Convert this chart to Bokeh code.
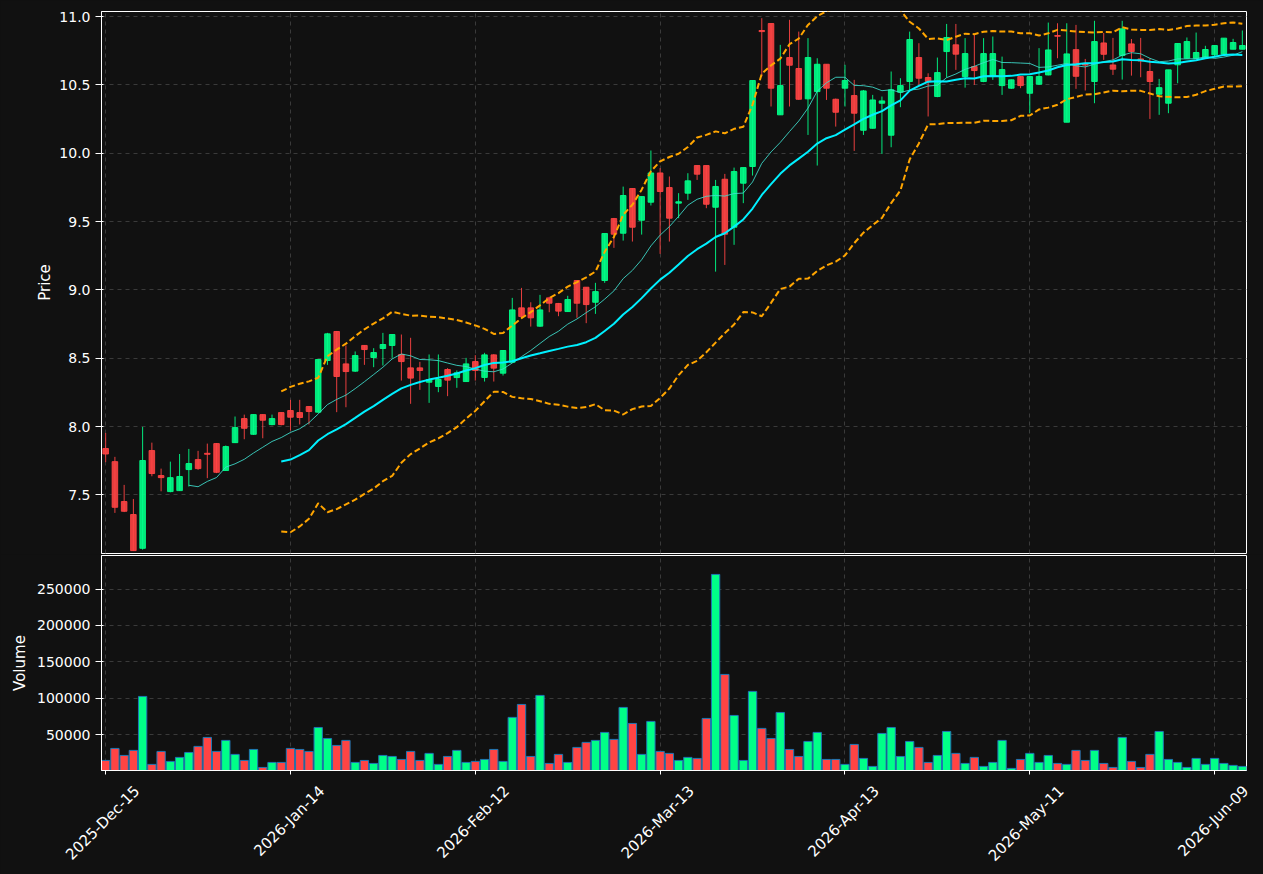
import numpy as np
import pandas as pd
from bokeh.plotting import figure
from bokeh.layouts import column
from bokeh.models import (Range1d, FixedTicker, SingleIntervalTicker, LinearAxis,
                          NumeralTickFormatter, ColumnDataSource)
from bokeh.embed import file_html
from bokeh.resources import INLINE

# ---------------- data ----------------
opens = [7.84, 7.744, 7.452, 7.357, 7.11, 7.825, 7.642, 7.525, 7.532, 7.686,
         7.759, 7.805, 7.876, 7.679, 7.883, 8.059, 7.944, 8.088, 8.015, 8.103,
         8.118, 8.103, 8.147, 8.106, 8.484, 8.696, 8.459, 8.406, 8.594, 8.506,
         8.572, 8.594, 8.528, 8.43, 8.43, 8.325, 8.294, 8.418, 8.359, 8.33,
         8.476, 8.36, 8.525, 8.391, 8.471, 8.869, 8.869, 8.735, 8.942, 8.901,
         8.842, 9.069, 9.02, 8.91, 9.069, 9.522, 9.415, 9.742, 9.51, 9.642,
         9.856, 9.749, 9.635, 9.708, 9.91, 9.91, 9.605, 9.81, 9.459, 9.781,
         9.903, 10.898, 10.949, 10.281, 10.70, 10.62, 10.398, 10.451, 10.651, 10.395,
         10.476, 10.422, 10.168, 10.183, 10.366, 10.132, 10.447, 10.525, 10.70, 10.554,
         10.415, 10.744, 10.793, 10.561, 10.634, 10.525, 10.561, 10.495, 10.476, 10.561,
         10.439, 10.505, 10.573, 10.861, 10.227, 10.758, 10.655, 10.525, 10.807, 10.646,
         10.715, 10.80, 10.69, 10.598, 10.432, 10.366, 10.647, 10.695, 10.695, 10.695,
         10.72, 10.725, 10.761, 10.761]
highs = [7.954, 7.779, 7.574, 7.471, 7.998, 7.883, 7.693, 7.744, 7.80, 7.837,
         7.823, 7.876, 7.88, 7.862, 8.074, 8.088, 8.09, 8.09, 8.088, 8.105,
         8.196, 8.196, 8.15, 8.49, 8.686, 8.70, 8.594, 8.55, 8.595, 8.574,
         8.686, 8.674, 8.674, 8.65, 8.474, 8.528, 8.528, 8.428, 8.411, 8.503,
         8.523, 8.54, 8.53, 8.56, 8.942, 9.015, 8.91, 8.964, 8.95, 8.905,
         8.957, 9.07, 9.02, 9.052, 9.413, 9.527, 9.756, 9.745, 9.683, 10.02,
         9.891, 9.83, 9.708, 9.854, 9.91, 9.91, 9.805, 9.849, 9.895, 9.895,
         10.532, 10.988, 10.95, 10.793, 10.976, 10.89, 10.842, 10.695, 10.651, 10.40,
         10.647, 10.537, 10.463, 10.427, 10.415, 10.598, 10.549, 10.89, 10.805, 10.585,
         10.70, 10.946, 10.946, 10.842, 10.871, 10.842, 10.854, 10.707, 10.54, 10.565,
         10.565, 10.769, 10.956, 10.951, 10.951, 10.939, 10.69, 10.969, 10.88, 10.844,
         10.969, 10.836, 10.844, 10.695, 10.544, 10.61, 10.803, 10.847, 10.883, 10.786,
         10.79, 10.842, 10.837, 10.898]
lows = [7.74, 7.369, 7.375, 7.09, 7.10, 7.637, 7.527, 7.52, 7.53, 7.562,
        7.684, 7.623, 7.66, 7.677, 7.88, 7.908, 7.94, 7.915, 8.01, 8.01,
        7.972, 8.016, 8.016, 8.10, 8.452, 8.106, 8.142, 8.40, 8.452, 8.435,
        8.447, 8.503, 8.337, 8.167, 8.269, 8.174, 8.252, 8.223, 8.284, 8.33,
        8.337, 8.33, 8.33, 8.374, 8.47, 8.80, 8.732, 8.73, 8.837, 8.808,
        8.84, 8.796, 8.757, 8.825, 9.052, 9.308, 9.361, 9.354, 9.405, 9.618,
        9.264, 9.354, 9.525, 9.659, 9.805, 9.598, 9.134, 9.183, 9.33, 9.635,
        9.837, 10.562, 10.342, 10.28, 10.342, 10.39, 10.134, 9.91, 10.39, 10.195,
        10.342, 10.017, 10.134, 10.18, 9.995, 10.044, 10.337, 10.464, 10.50, 10.269,
        10.41, 10.554, 10.61, 10.48, 10.50, 10.52, 10.537, 10.427, 10.47, 10.476,
        10.293, 10.50, 10.57, 10.695, 10.227, 10.471, 10.459, 10.366, 10.683, 10.573,
        10.539, 10.568, 10.556, 10.251, 10.281, 10.293, 10.512, 10.69, 10.69, 10.69,
        10.707, 10.72, 10.76, 10.76]
closes = [7.80, 7.41, 7.381, 7.093, 7.752, 7.657, 7.627, 7.627, 7.635, 7.73,
          7.693, 7.798, 7.666, 7.854, 7.993, 7.988, 8.088, 8.047, 8.059, 8.015,
          8.069, 8.067, 8.111, 8.491, 8.679, 8.367, 8.403, 8.52, 8.564, 8.542,
          8.601, 8.674, 8.476, 8.355, 8.411, 8.345, 8.345, 8.34, 8.394, 8.459,
          8.411, 8.525, 8.428, 8.557, 8.854, 8.806, 8.796, 8.854, 8.903, 8.845,
          8.93, 8.903, 8.893, 8.988, 9.413, 9.408, 9.691, 9.459, 9.683, 9.856,
          9.72, 9.525, 9.645, 9.798, 9.847, 9.627, 9.757, 9.408, 9.866, 9.895,
          10.532, 10.89, 10.476, 10.495, 10.644, 10.395, 10.70, 10.651, 10.476, 10.30,
          10.532, 10.293, 10.456, 10.39, 10.383, 10.464, 10.495, 10.832, 10.549, 10.525,
          10.59, 10.847, 10.725, 10.729, 10.605, 10.729, 10.729, 10.612, 10.537, 10.495,
          10.561, 10.561, 10.756, 10.856, 10.727, 10.563, 10.645, 10.817, 10.724, 10.615,
          10.91, 10.744, 10.675, 10.525, 10.48, 10.61, 10.803, 10.817, 10.737, 10.759,
          10.788, 10.842, 10.81, 10.788]
volumes = [14600, 31100, 21500, 28400, 102500, 9200, 27000, 13300, 18800, 25600,
           33900, 46200, 27000, 42100, 22900, 14600, 29700, 5000, 11900, 11900,
           31100, 29700, 27000, 59900, 44800, 35200, 42100, 11900, 14600, 10500,
           21500, 20100, 16000, 27000, 14600, 24300, 9200, 20100, 28400, 11900,
           13300, 16000, 29700, 13300, 73700, 91500, 20100, 103900, 10500, 22900,
           11900, 32500, 39400, 42100, 53100, 43500, 87400, 65400, 22900, 68200,
           27000, 24300, 14600, 18800, 17400, 72300, 270000, 132700, 76400, 14600,
           109400, 58600, 44800, 80500, 29700, 20100, 40700, 53100, 16000, 16000,
           9200, 36600, 17400, 6400, 51700, 59900, 20100, 40700, 32500, 11900,
           21500, 54400, 24300, 10500, 18800, 6400, 11900, 42100, 3700, 16000,
           24300, 11900, 21500, 10500, 9200, 28400, 14600, 28400, 10500, 5000,
           46200, 13300, 5000, 22900, 54400, 16000, 11900, 5000, 17400, 9200,
           17400, 10500, 7800, 6400]
tick_positions = [0, 20, 40, 60, 80, 100, 120]
tick_labels = ["2025-Dec-15", "2026-Jan-14", "2026-Feb-12", "2026-Mar-13",
               "2026-Apr-13", "2026-May-11", "2026-Jun-09"]

# ---------------- derived ----------------
n = len(closes)
idx = list(range(n))
UP, DOWN = "#00ff88", "#ff4444"
colors = [UP if c >= o else DOWN for o, c in zip(opens, closes)]
body_top = [max(o, c) for o, c in zip(opens, closes)]
body_bot = [min(o, c) for o, c in zip(opens, closes)]
cs = pd.Series(closes)
sma10 = cs.rolling(10).mean()
sma20 = cs.rolling(20).mean()
std20 = cs.rolling(20).std()
upper = sma20 + 2 * std20
lower = sma20 - 2 * std20

src = ColumnDataSource(dict(x=idx, o=opens, h=highs, l=lows, c=closes, v=volumes,
                            color=colors, top=body_top, bot=body_bot,
                            sma10=sma10.values, sma20=sma20.values,
                            upper=upper.values, lower=lower.values))

BG = "#111111"
GRID = "#3a3a3a"
FONT = "DejaVu Sans"
W = 1263
LEFT, RIGHT = 101, 17
xr = Range1d(-0.45, n - 0.55)


def style(p):
    p.background_fill_color = BG
    p.border_fill_color = BG
    p.outline_line_color = "white"
    p.outline_line_width = 1
    p.outline_line_alpha = 1
    for ax in p.axis:
        ax.axis_line_color = "white"
        ax.major_tick_line_color = "white"
        ax.minor_tick_line_color = None
        ax.major_label_text_color = "white"
        ax.major_label_text_font = FONT
        ax.major_label_text_font_size = "14px"
        ax.axis_label_text_color = "white"
        ax.axis_label_text_font = FONT
        ax.axis_label_text_font_size = "15px"
        ax.axis_label_text_font_style = "normal"
    for g in p.grid:
        g.grid_line_color = GRID
        g.grid_line_dash = "4 4"
        g.grid_line_width = 1


# ---------------- price panel ----------------
p = figure(width=W, height=554, x_range=xr, y_range=Range1d(7.072, 11.037),
           output_backend="svg", toolbar_location=None,
           min_border_left=LEFT, min_border_right=RIGHT, min_border_top=11,
           min_border_bottom=1)
p.segment(x0="x", y0="l", x1="x", y1="h", color="color", line_alpha=0.9,
          line_width=1, source=src)
p.vbar(x="x", width=0.6, top="top", bottom="bot", fill_color="color",
       line_color="color", fill_alpha=0.9, line_alpha=0.9, source=src)
p.line(x="x", y="sma10", source=src, line_color="#40e0d0", line_width=1, line_alpha=0.85)
p.line(x="x", y="sma20", source=src, line_color="#00f0ff", line_width=2)
p.line(x="x", y="upper", source=src, line_color="orange", line_width=2, line_dash="6 3")
p.line(x="x", y="lower", source=src, line_color="orange", line_width=2, line_dash="6 3")
p.yaxis.axis_label = "Price"
p.yaxis.ticker = SingleIntervalTicker(interval=0.5)
p.yaxis.formatter = NumeralTickFormatter(format="0.0")
p.xaxis.visible = False
p.xgrid.ticker = FixedTicker(ticks=tick_positions)
style(p)
p.yaxis.axis_label_standoff = 2

# ---------------- volume panel ----------------
pv = figure(width=W, height=320, x_range=xr, y_range=Range1d(800, 296000),
            output_backend="svg", toolbar_location=None,
            min_border_left=LEFT, min_border_right=RIGHT, min_border_top=1,
            min_border_bottom=103)
pv.vbar(x="x", width=0.9, top="v", bottom=0, fill_color="color",
        line_color="#1f77b4", line_width=1, source=src)
pv.yaxis.axis_label = "Volume"
pv.yaxis.ticker = SingleIntervalTicker(interval=50000)
pv.yaxis.formatter = NumeralTickFormatter(format="0")
pv.xaxis.ticker = FixedTicker(ticks=tick_positions)
pv.xgrid.ticker = FixedTicker(ticks=tick_positions)
style(pv)
# tick marks only on the main axis
pv.xaxis.major_label_overrides = {t: "" for t in tick_positions}
pv.xaxis.major_label_text_font_size = "0px"
pv.xaxis.major_label_standoff = 0
pv.xaxis.major_tick_out = 4
pv.xaxis.major_tick_in = 0

# date labels: a label-only axis whose (right-aligned) rotated labels end
# up centred under the real ticks
label_shift = 3.4
label_ticks = [t + label_shift for t in tick_positions]
lab_axis = LinearAxis(ticker=FixedTicker(ticks=label_ticks),
                      major_label_overrides={lt: lab for lt, lab in zip(label_ticks, tick_labels)},
                      major_label_orientation=np.pi / 4,
                      axis_line_color=None, major_tick_line_color=None,
                      minor_tick_line_color=None,
                      major_label_text_color="white", major_label_text_font=FONT,
                      major_label_text_font_size="15px", major_label_standoff=8)
pv.add_layout(lab_axis, "below")

layout = column(p, pv, spacing=0)
layout.styles = {"background-color": BG}
open("out.html", "w").write(file_html(layout, INLINE))
